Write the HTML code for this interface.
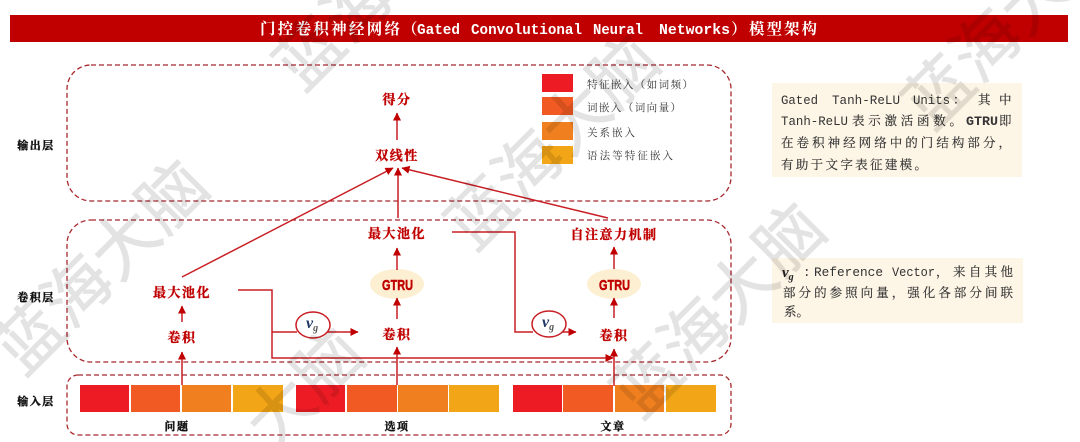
<!DOCTYPE html>
<html><head><meta charset="utf-8"><style>
html,body{margin:0;padding:0;background:#fff;width:1080px;height:442px;overflow:hidden}
svg{display:block;overflow:hidden}
.l{font-family:"Noto Serif CJK SC",serif;font-weight:700;fill:#c00000;stroke:#c00000;stroke-width:.35;font-size:13px;text-anchor:middle;letter-spacing:1.5px}
.k{font-family:"Noto Serif CJK SC",serif;font-weight:700;fill:#111;stroke:#111;stroke-width:.4;font-size:11px;text-anchor:middle;letter-spacing:1.5px}
.g{font-family:"Liberation Sans",sans-serif;font-weight:700;fill:#c00000;stroke:#c00000;stroke-width:.5;font-size:15px}
.t{font-family:"Liberation Mono",monospace;fill:#333;font-size:12.5px}
.z{font-family:"Noto Serif CJK SC",serif;fill:#333;font-size:12.5px;stroke:#333;stroke-width:.15}
.h{font-family:"Liberation Mono",monospace;font-weight:700;fill:#fff;font-size:15px}
.hz{font-family:"Noto Serif CJK SC",serif;font-weight:700;fill:#fff;font-size:15.5px}
.lg{font-family:"Noto Serif CJK SC",serif;fill:#333;font-size:10.5px}
.wm{font-family:"Noto Sans CJK SC",sans-serif;font-size:66px;text-anchor:middle;letter-spacing:1px}
.box{fill:none;stroke:#a8282e;stroke-width:1.3;stroke-dasharray:5 3}
.c{fill:none;stroke:#c81e24;stroke-width:1.5}
.v{font-family:"Liberation Serif",serif;font-style:italic;font-weight:700}
</style></head><body>
<svg width="1080" height="442" viewBox="0 0 1080 442" xmlns="http://www.w3.org/2000/svg">
<defs><marker id="a" markerWidth="9" markerHeight="9" refX="7.5" refY="4" orient="auto" markerUnits="userSpaceOnUse"><path d="M0 0L8 4L0 8z" fill="#c00000"/></marker>
<clipPath id="cp"><rect x="0" y="0" width="1080" height="442"/></clipPath></defs>

<rect x="10" y="15" width="1058" height="27" fill="#c00000"/>
<text class="hz" x="260" y="34" textLength="140">门控卷积神经网络</text>
<text class="hz" x="402" y="34">（</text>
<text class="h" x="417" y="34" textLength="43" lengthAdjust="spacingAndGlyphs">Gated</text>
<text class="h" x="471" y="34" textLength="111" lengthAdjust="spacingAndGlyphs">Convolutional</text>
<text class="h" x="593" y="34" textLength="50" lengthAdjust="spacingAndGlyphs">Neural</text>
<text class="h" x="659" y="34" textLength="71" lengthAdjust="spacingAndGlyphs">Networks</text>
<text class="hz" x="731" y="34">）</text>
<text class="hz" x="749" y="34" textLength="68">模型架构</text>

<rect class="box" x="67" y="65" width="664" height="136" rx="24"/>
<rect class="box" x="67" y="220" width="664" height="142" rx="24"/>
<rect class="box" x="67" y="375" width="664" height="60" rx="11"/>

<text class="k" x="36" y="149">输出层</text>
<text class="k" x="36" y="301">卷积层</text>
<text class="k" x="36" y="405">输入层</text>

<rect x="542" y="74" width="31" height="18" fill="#ed1c24"/>
<rect x="542" y="97" width="31" height="18" fill="#f15a22"/>
<rect x="542" y="122" width="31" height="18" fill="#f0801f"/>
<rect x="542" y="146" width="31" height="18" fill="#f2a516"/>
<text class="lg" x="587" y="88" textLength="106">特征嵌入（如词频）</text>
<text class="lg" x="587" y="111" textLength="94">词嵌入（词向量）</text>
<text class="lg" x="587" y="136" textLength="48">关系嵌入</text>
<text class="lg" x="587" y="159" textLength="86">语法等特征嵌入</text>

<rect x="80" y="385" width="49" height="27" fill="#ed1c24"/><rect x="131" y="385" width="49" height="27" fill="#f15a22"/><rect x="182" y="385" width="49" height="27" fill="#f0801f"/><rect x="233" y="385" width="50" height="27" fill="#f2a516"/>
<rect x="296" y="385" width="49" height="27" fill="#ed1c24"/><rect x="347" y="385" width="50" height="27" fill="#f15a22"/><rect x="398" y="385" width="50" height="27" fill="#f0801f"/><rect x="449" y="385" width="50" height="27" fill="#f2a516"/>
<rect x="513" y="385" width="49" height="27" fill="#ed1c24"/><rect x="563" y="385" width="50" height="27" fill="#f15a22"/><rect x="615" y="385" width="49" height="27" fill="#f0801f"/><rect x="666" y="385" width="50" height="27" fill="#f2a516"/>
<text class="k" x="177" y="430">问题</text>
<text class="k" x="397" y="430">选项</text>
<text class="k" x="613" y="430">文章</text>

<ellipse cx="397" cy="284" rx="27" ry="15" fill="#fdefd2"/>
<ellipse cx="614" cy="284" rx="27" ry="15" fill="#fdefd2"/>
<text class="g" x="382" y="290" textLength="31" lengthAdjust="spacingAndGlyphs">GTRU</text>
<text class="g" x="599" y="290" textLength="31" lengthAdjust="spacingAndGlyphs">GTRU</text>

<text class="l" x="397" y="104">得分</text>
<text class="l" x="397" y="160">双线性</text>
<text class="l" x="397" y="238">最大池化</text>
<text class="l" x="397" y="339">卷积</text>
<text class="l" x="182" y="297">最大池化</text>
<text class="l" x="182" y="342">卷积</text>
<text class="l" x="614" y="239">自注意力机制</text>
<text class="l" x="614" y="340">卷积</text>

<path class="c" d="M397 140V113" marker-end="url(#a)"/>
<path class="c" d="M398 218V168" marker-end="url(#a)"/>
<path class="c" d="M182 277L393 168" marker-end="url(#a)"/>
<path class="c" d="M608 218L402 168" marker-end="url(#a)"/>
<path class="c" d="M397 270V248" marker-end="url(#a)"/>
<path class="c" d="M397 319V298" marker-end="url(#a)"/>
<path class="c" d="M397 385V347" marker-end="url(#a)"/>
<path class="c" d="M182 385V352" marker-end="url(#a)"/>
<path class="c" d="M182 322V306" marker-end="url(#a)"/>
<path class="c" d="M614 386V349" marker-end="url(#a)"/>
<path class="c" d="M614 318V298" marker-end="url(#a)"/>
<path class="c" d="M614 269V247" marker-end="url(#a)"/>
<path class="c" d="M238 290H272V358H613" marker-end="url(#a)"/>
<path class="c" d="M272 332H297"/>
<path class="c" d="M327 332H358" marker-end="url(#a)"/>
<path class="c" d="M452 232H515V332H533"/>
<path class="c" d="M562 332H576" marker-end="url(#a)"/>

<ellipse cx="313" cy="325" rx="17" ry="13" fill="#fff" stroke="#c81e24" stroke-width="1.5"/>
<ellipse cx="549" cy="324" rx="17" ry="13" fill="#fff" stroke="#c81e24" stroke-width="1.5"/>
<text class="v" x="306" y="328" font-size="16" fill="#1f3864">v<tspan font-size="10" dy="3" fill="#555">g</tspan></text>
<text class="v" x="542" y="327" font-size="16" fill="#1f3864">v<tspan font-size="10" dy="3" fill="#555">g</tspan></text>

<rect x="772" y="83" width="250" height="94" fill="#fdf5e6"/>
<text class="t" x="781" y="104" textLength="37" lengthAdjust="spacingAndGlyphs">Gated</text>
<text class="t" x="832" y="104" textLength="68" lengthAdjust="spacingAndGlyphs">Tanh-ReLU</text>
<text class="t" x="913" y="104" textLength="37" lengthAdjust="spacingAndGlyphs">Units</text>
<text class="z" x="953" y="104">：</text>
<text class="z" x="978" y="104">其</text>
<text class="z" x="999" y="104">中</text>
<text class="t" x="781" y="125" textLength="67" lengthAdjust="spacingAndGlyphs">Tanh-ReLU</text>
<text class="z" x="852" y="125" textLength="110">表示激活函数。</text>
<text class="t" x="966" y="125" textLength="32" lengthAdjust="spacingAndGlyphs" font-weight="700">GTRU</text>
<text class="z" x="999" y="125">即</text>
<text class="z" x="781" y="147" textLength="230">在卷积神经网络中的门结构部分，</text>
<text class="z" x="781" y="169" textLength="146">有助于文字表征建模。</text>

<rect x="772" y="258" width="251" height="65" fill="#fdf5e6"/>
<text class="v" x="782" y="277" font-size="15" fill="#222">v<tspan font-size="10" dy="3">g</tspan></text>
<text class="t" x="803" y="276">:</text>
<text class="t" x="814" y="276" textLength="69" lengthAdjust="spacingAndGlyphs">Reference</text>
<text class="t" x="892" y="276" textLength="43" lengthAdjust="spacingAndGlyphs">Vector</text>
<text class="z" x="936" y="276">，</text>
<text class="z" x="953" y="276" textLength="60">来自其他</text>
<text class="z" x="783" y="297" textLength="230">部分的参照向量，强化各部分间联</text>
<text class="z" x="784" y="316">系。</text>

<g opacity=".11" fill="#000" stroke="#000" stroke-width=".8" clip-path="url(#cp)">
<text class="wm" transform="translate(118,283) rotate(-45)">蓝海大脑</text>
<text class="wm" transform="translate(350,46) rotate(-45)">蓝海</text>
<text class="wm" transform="translate(321,404) rotate(-45)">大脑</text>
<text class="wm" transform="translate(569,158) rotate(-45)">蓝海大脑</text>
<text class="wm" transform="translate(735,326) rotate(-45)">蓝海大脑</text>
<text class="wm" transform="translate(1003,61) rotate(-45)">蓝海大</text>
</g>
</svg>
</body></html>
